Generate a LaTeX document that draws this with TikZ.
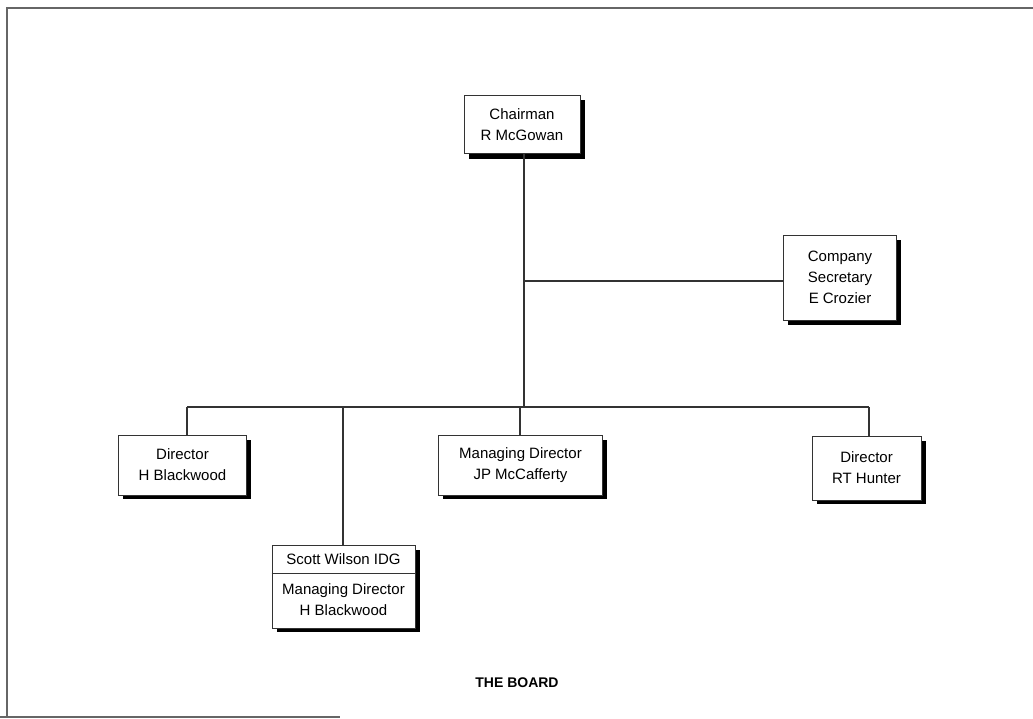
\documentclass[tikz,border=0pt]{standalone}
\usepackage{fontspec}
\setmainfont{Liberation Sans}
\begin{document}
\begin{tikzpicture}[x=1pt,y=-1pt,
  box/.style={draw=black!80,line width=0.7pt,fill=white,align=center,inner sep=0pt,
    font=\fontsize{15}{21}\selectfont},
  shadow/.style={fill=black},
  conn/.style={draw=black!80,line width=1.1pt},
  frame/.style={draw=black!60,line width=1.4pt}]
\useasboundingbox (0,0) rectangle (1033,719);
% frame
\draw[frame] (7,717) -- (7,8) -- (1033,8);
\draw[frame] (0,717) -- (340,717);
% shadows
\fill[shadow] (469,100) rectangle (585,159);
\fill[shadow] (788,240) rectangle (901,325);
\fill[shadow] (123,440) rectangle (251,499);
\fill[shadow] (443,440) rectangle (607,499);
\fill[shadow] (817,441) rectangle (926,504);
\fill[shadow] (277,550) rectangle (420,632);
% boxes
\node[box,minimum width=116pt,minimum height=58pt] (chair) at (522,124.5) {Chairman\\R McGowan};
\node[box,minimum width=113pt,minimum height=85pt] (sec) at (840,277.5) {Company\\Secretary\\E Crozier};
\node[box,minimum width=128pt,minimum height=60pt] (dhb) at (182.5,465) {Director\\H Blackwood};
\node[box,minimum width=164pt,minimum height=60pt] (md) at (520.5,465) {Managing Director\\JP McCafferty};
\node[box,minimum width=109pt,minimum height=64pt] (rth) at (866.5,468) {Director\\RT Hunter};
\node[box,minimum width=143pt,minimum height=83pt] (sw) at (343.5,586.5) {};
\node[font=\fontsize{15}{21}\selectfont] (swt) at (343.5,559.5) {Scott Wilson IDG};
\node[font=\fontsize{15}{21}\selectfont,align=center] (swb) at (343.5,600) {Managing Director\\H Blackwood};
\draw[draw=black!80,line width=0.7pt] (sw.west |- 0,573) -- (sw.east |- 0,573);
% connectors
\coordinate (j1) at (524,281);
\coordinate (j2) at (524,407);
\coordinate (l) at (187,407);
\coordinate (r) at (869,407);
\coordinate (s) at (343,407);
\coordinate (m) at (520,407);
\draw[conn] (chair.south -| j1) -- (j2);
\draw[conn] (j1) -- (sec.west |- j1);
\draw[conn] (l) -- (r);
\draw[conn] (l) -- (l |- dhb.north);
\draw[conn] (s) -- (s |- sw.north);
\draw[conn] (m) -- (m |- md.north);
\draw[conn] (r) -- (r |- rth.north);
% title
\node[font=\bfseries\fontsize{14}{17}\selectfont] (title) at (517,683) {THE BOARD};
\end{tikzpicture}
\end{document}
